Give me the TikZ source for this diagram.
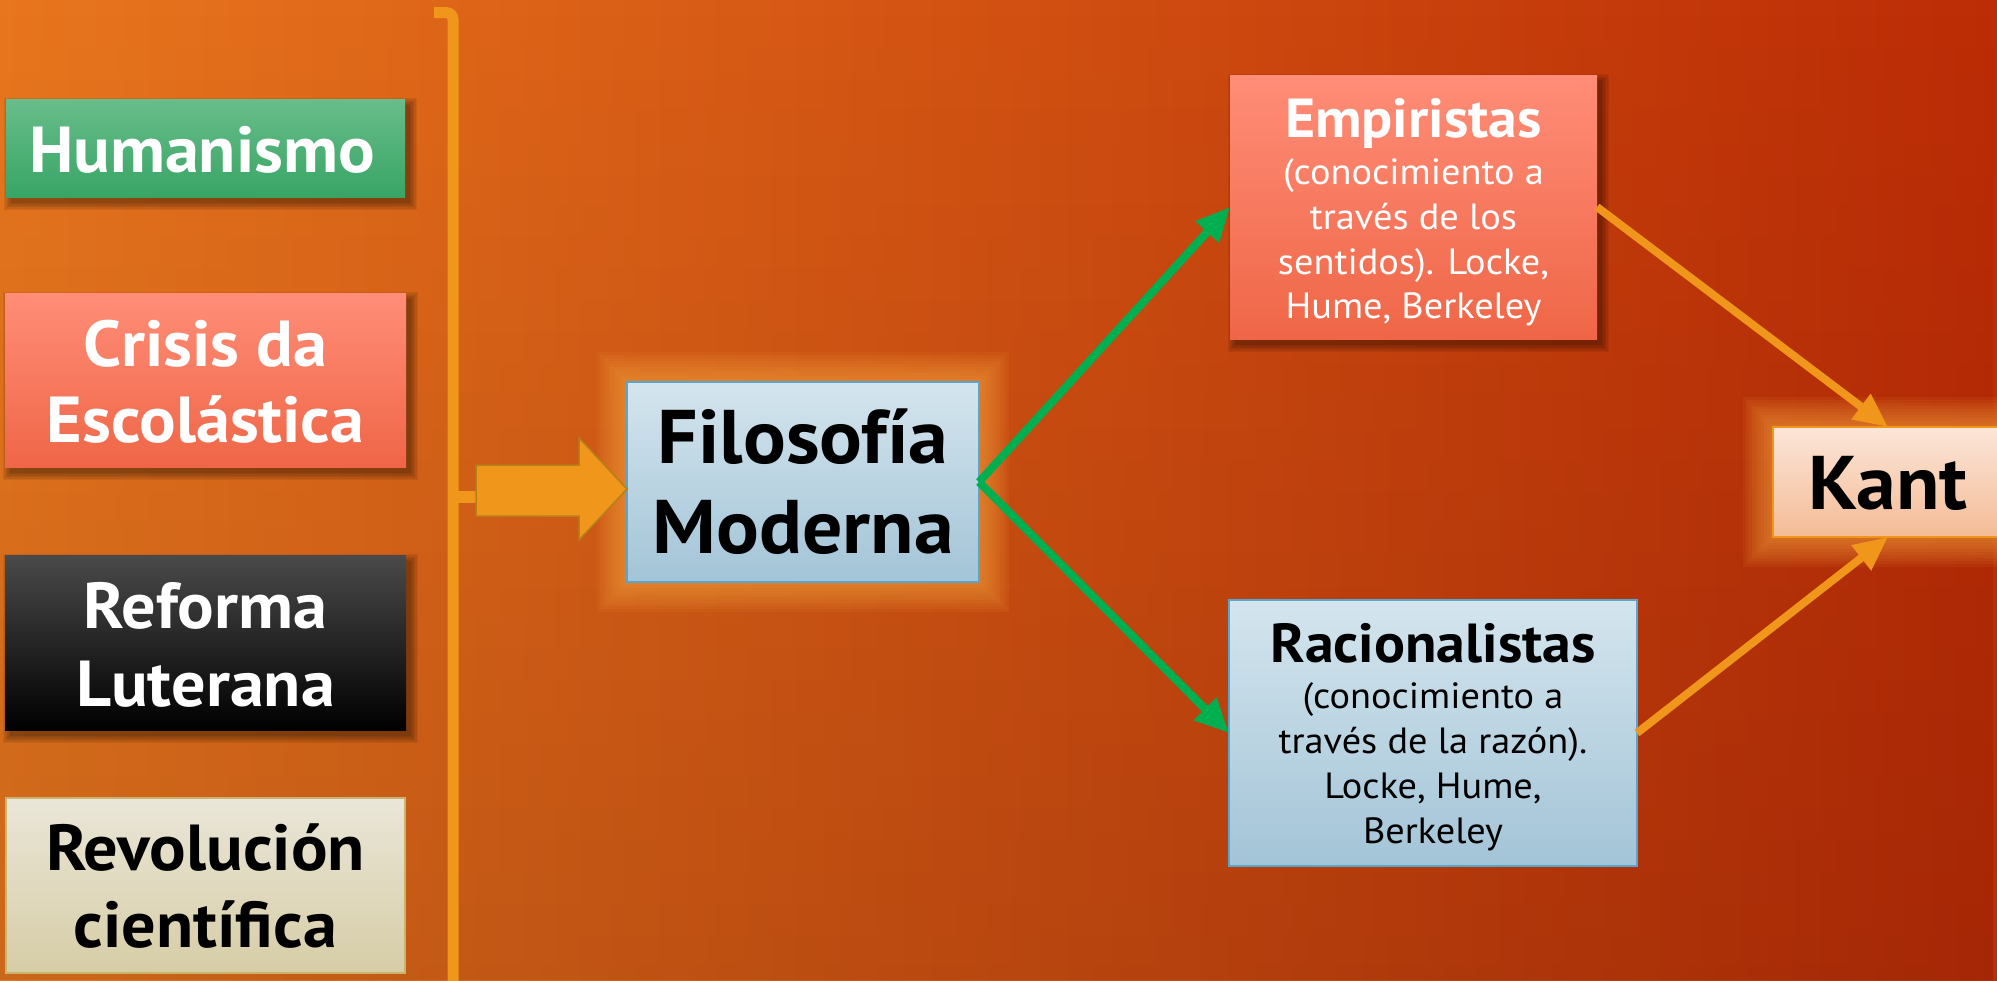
\documentclass[tikz,border=0pt]{standalone}
\usepackage{fontspec}
\setmainfont{PT Sans}[FakeStretch=1.05]
\usetikzlibrary{arrows.meta,fadings}
\definecolor{bgL}{HTML}{E8761E}
\definecolor{bgM}{HTML}{D5480E}
\definecolor{bgR}{HTML}{BC2C06}
\definecolor{humT}{HTML}{68BD8A}
\definecolor{humB}{HTML}{38A565}
\definecolor{criT}{HTML}{FF8D77}
\definecolor{criB}{HTML}{EF6647}
\definecolor{refT}{HTML}{4A4A4A}
\definecolor{revT}{HTML}{EAE6D8}
\definecolor{revB}{HTML}{D6CDA6}
\definecolor{revD}{HTML}{C9B36E}
\definecolor{fmT}{HTML}{D4E5EE}
\definecolor{fmB}{HTML}{A3C4D7}
\definecolor{fmD}{HTML}{5AA5CC}
\definecolor{kanT}{HTML}{FCE6D9}
\definecolor{kanB}{HTML}{F3BB95}
\definecolor{orangeA}{HTML}{F0961A}
\definecolor{orangeD}{HTML}{B3801A}
\definecolor{greenA}{HTML}{00B050}
\definecolor{glowc}{HTML}{F7A541}
\pgfdeclarelayer{bg}
\pgfdeclarelayer{fx}
\pgfsetlayers{bg,fx,main}
\begin{document}
\begin{tikzpicture}[x=1pt,y=-1pt,
  box/.style={rectangle, inner sep=0pt, outer sep=0pt},
  bigW/.style={anchor=base, text=white, font=\fontsize{65}{65}\selectfont\bfseries},
  bigK/.style={anchor=base, text=black, font=\fontsize{65}{65}\selectfont\bfseries},
  hugeK/.style={anchor=base, text=black, font=\fontsize{76}{76}\selectfont\bfseries},
  titW/.style={anchor=base, text=white, font=\fontsize{55}{55}\selectfont\bfseries},
  titK/.style={anchor=base, text=black, font=\fontsize{55}{55}\selectfont\bfseries},
  subW/.style={anchor=base, text=white, font=\fontsize{36.5}{36.5}\selectfont},
  subK/.style={anchor=base, text=black, font=\fontsize{36.5}{36.5}\selectfont},
  greenarrow/.style={draw=greenA, line width=8pt, -{Triangle[length=34pt,width=30pt]}},
  orangearrow/.style={draw=orangeA, line width=8pt, -{Triangle[length=34pt,width=30pt]}}
]
\useasboundingbox (0,0) rectangle (1997,980);
\begin{pgfonlayer}{bg}
\shade[left color=bgL, middle color=bgM, right color=bgR] (0,0) rectangle (1997,980);
\fill[black, opacity=0.12, path fading=north] (0,0) rectangle (1997,980);
\end{pgfonlayer}

% left boxes
\node[box, minimum width=399pt, minimum height=98pt, top color=humT, bottom color=humB] (hum) at (205.5,148) {};
\node[box, minimum width=401pt, minimum height=174pt, top color=criT, bottom color=criB] (cri) at (205.5,380) {};
\node[box, minimum width=401pt, minimum height=175pt, top color=refT, middle color=black, bottom color=black] (ref) at (205.5,642.5) {};
\node[box, minimum width=399pt, minimum height=175pt, top color=revT, bottom color=revB, draw=revD, line width=2pt] (rev) at (205.5,885.5) {};

\node[bigW] (humt) at (202,172) {Humanismo};
\node[bigW] (crit1) at (205.5,366) {Crisis da};
\node[bigW] (crit2) at (205.5,442) {Escolástica};
\node[bigW] (reft1) at (205.5,628) {Reforma};
\node[bigW] (reft2) at (205.5,706) {Luterana};
\node[bigK] (revt1) at (205.5,870) {Revolución};
\node[bigK] (revt2) at (205.5,947) {científica};

% centre and right boxes
\node[box, minimum width=352pt, minimum height=200pt, top color=fmT, bottom color=fmB, draw=fmD, line width=2pt] (fm) at (803,482) {};
\node[hugeK] (fmt1) at (803,463) {Filosofía};
\node[hugeK] (fmt2) at (803,553) {Moderna};

\node[box, minimum width=367pt, minimum height=264pt, top color=criT, bottom color=criB] (emp) at (1413.5,207) {};
\node[titW] (empt0) at (1413.5,137) {Empiristas};
\node[subW] (empt1) at (1413.5,184) {(conocimiento a};
\node[subW] (empt2) at (1413.5,229) {través de los};
\node[subW] (empt3) at (1413.5,274) {sentidos). Locke,};
\node[subW] (empt4) at (1413.5,318) {Hume, Berkeley};

\node[box, minimum width=408pt, minimum height=266pt, top color=fmT, bottom color=fmB, draw=fmD, line width=2pt] (rac) at (1433,733) {};
\node[titK] (ract0) at (1433,662) {Racionalistas};
\node[subK] (ract1) at (1433,708) {(conocimiento a};
\node[subK] (ract2) at (1433,753) {través de la razón).};
\node[subK] (ract3) at (1433,798) {Locke, Hume,};
\node[subK] (ract4) at (1433,843) {Berkeley};

\node[box, minimum width=230pt, minimum height=110pt, top color=kanT, bottom color=kanB, draw=orangeA, line width=2.5pt] (kant) at (1888,482) {};
\node[hugeK] (kantt) at (1888,509) {Kant};

% shadows and glows
\begin{pgfonlayer}{fx}
\foreach \n in {hum,cri,ref,emp}{
  \foreach \k in {0,...,5}{
    \fill[black, opacity=0.07] ([xshift=5pt-\k*1.4pt, yshift=-6pt+\k*1.4pt]\n.north west) rectangle ([xshift=5pt+\k*1.4pt, yshift=-6pt-\k*1.4pt]\n.south east);
  }
}
\foreach \n in {fm,kant}{
  \foreach \k in {1,...,10}{
    \fill[glowc, opacity=0.08] ([xshift=-\k*3pt, yshift=\k*3pt]\n.north west) rectangle ([xshift=\k*3pt, yshift=-\k*3pt]\n.south east);
  }
}
\end{pgfonlayer}

% bracket
\draw[orangeA, line width=11pt, rounded corners=7pt] (434,12.5) -- (453,12.5) -- (453,995);
\coordinate (brk) at (453,497);
\draw[orangeA, line width=12pt] (brk) -- (477,497);

% block arrow
\filldraw[fill=orangeA, draw=orangeD, line width=1.5pt]
  (476,465) -- (579,465) -- (579,438) -- ([yshift=-7pt]fm.west) -- (579,540) -- (579,516) -- (476,516) -- cycle;

% connectors
\draw[greenarrow] (fm.east) -- (emp.west);
\draw[greenarrow] (fm.east) -- (rac.west);
\draw[orangearrow] (emp.east) -- (kant.north);
\draw[orangearrow] (rac.east) -- (kant.south);
\end{tikzpicture}
\end{document}
